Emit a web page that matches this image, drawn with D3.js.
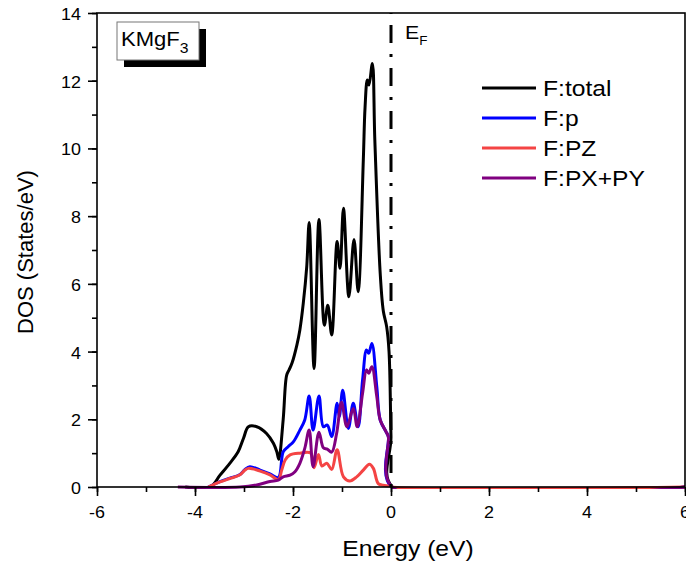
<!DOCTYPE html>
<html>
<head>
<meta charset="utf-8">
<script src="https://cdn.jsdelivr.net/npm/d3@7"></script>
<style>
  body { margin: 0; background: #fff; }
  svg { display: block; font-family: "Liberation Sans", Arial, sans-serif; }
</style>
</head>
<body>
<svg id="chart" width="686" height="567"></svg>
<script>
// F partial DOS of KMgF3 (energy in eV, DOS in States/eV)
const totalE = [-4.2, -3.69, -3.49, -3.29, -3.12, -3.01, -2.91, -2.74, -2.54, -2.40, -2.33, -2.29, -2.20, -2.13, -2.08, -2.02, -1.92, -1.86, -1.79, -1.72, -1.67, -1.57, -1.47, -1.36, -1.29, -1.21, -1.10, -1.04, -0.97, -0.86, -0.755, -0.67, -0.565, -0.53, -0.484, -0.45, -0.38, -0.33, -0.22, -0.157, -0.088, -0.04, 0.0, 0.03, 6];
const totalDOS = [0, 0, 0.35, 0.7, 1.04, 1.44, 1.78, 1.78, 1.58, 1.29, 1.04, 0.82, 2.0, 3.3, 3.46, 3.66, 4.2, 4.64, 5.43, 6.5, 7.81, 3.5, 7.9, 4.78, 5.37, 4.49, 7.25, 6.46, 8.23, 5.62, 7.31, 5.77, 9.66, 11.2, 12.02, 11.87, 12.51, 10.25, 6.3, 5.2, 4.73, 4.0, 1.5, 0, 0];

const pE = [-3.73, -3.49, -3.29, -3.08, -2.98, -2.88, -2.67, -2.47, -2.30, -2.20, -2.10, -1.99, -1.86, -1.76, -1.67, -1.59, -1.47, -1.38, -1.30, -1.21, -1.10, -1.055, -0.985, -0.87, -0.77, -0.67, -0.58, -0.50, -0.455, -0.39, -0.29, -0.22, -0.10, -0.055, 0.01, 6];
const pDOS = [0, 0.16, 0.26, 0.37, 0.52, 0.6, 0.5, 0.39, 0.28, 1.04, 1.19, 1.34, 1.68, 1.98, 2.69, 1.68, 2.69, 1.78, 1.83, 1.49, 2.47, 2.08, 2.86, 1.73, 2.47, 1.78, 3.16, 4.05, 3.95, 4.24, 2.96, 1.98, 1.63, 1.49, 0, 0];

const pzE = [-3.73, -3.49, -3.29, -3.08, -2.98, -2.91, -2.67, -2.47, -2.30, -2.23, -2.16, -2.06, -1.86, -1.64, -1.57, -1.48, -1.41, -1.31, -1.21, -1.10, -0.97, -0.84, -0.70, -0.565, -0.44, -0.36, -0.26, -0.16, -0.02, 0.02, 6];
const pzDOS = [0, 0.15, 0.25, 0.36, 0.5, 0.55, 0.47, 0.36, 0.22, 0.5, 0.8, 0.95, 1.0, 1.0, 0.57, 0.96, 0.62, 0.7, 0.52, 1.1, 0.3, 0.18, 0.3, 0.5, 0.67, 0.55, 0.1, 0.05, 0.03, 0, 0];

const pxpyE = [-4.35, -3.08, -2.74, -2.47, -2.30, -2.20, -2.06, -1.96, -1.86, -1.76, -1.67, -1.59, -1.47, -1.38, -1.30, -1.21, -1.11, -1.01, -0.90, -0.77, -0.69, -0.58, -0.50, -0.455, -0.39, -0.29, -0.22, -0.10, -0.055, 0.02, 6];
const pxpyDOS = [0, 0, 0.06, 0.16, 0.2, 0.3, 0.35, 0.45, 0.7, 1.14, 1.68, 0.6, 1.62, 1.16, 1.12, 1.03, 1.58, 2.5, 1.78, 2.32, 1.78, 2.77, 3.46, 3.36, 3.55, 2.67, 1.98, 1.63, 1.49, 0, 0];

const seriesNames = ["F:total", "F:p", "F:PZ", "F:PX+PY"];
const seriesColors = ["#000000", "#0000ff", "#f44444", "#800080"];
const xTicks = [-6, -4, -2, 0, 2, 4, 6];
const yTicks = [0, 2, 4, 6, 8, 10, 12, 14];

const series = [
  { name: seriesNames[0], color: seriesColors[0], e: totalE, v: totalDOS },
  { name: seriesNames[1], color: seriesColors[1], e: pE, v: pDOS },
  { name: seriesNames[2], color: seriesColors[2], e: pzE, v: pzDOS },
  { name: seriesNames[3], color: seriesColors[3], e: pxpyE, v: pxpyDOS }
];

const W = 686, H = 567;
const margin = { left: 97, top: 13, right: 1, bottom: 80 };
const stretch = 1.12; // the original text looks horizontally widened

const svg = d3.select("#chart");
const x = d3.scaleLinear().domain([-6, 6]).range([margin.left, W - margin.right]);
const y = d3.scaleLinear().domain([0, 14]).range([H - margin.bottom, margin.top]);

svg.append("defs").append("clipPath").attr("id", "plot")
  .append("rect")
  .attr("x", x(-6)).attr("y", y(14) - 2)
  .attr("width", x(6) - x(-6)).attr("height", y(0) - y(14) + 4);

// curves
const line = d3.line()
  .x(d => x(d[0]))
  .y(d => y(d[1]))
  .curve(d3.curveCatmullRom.alpha(0.5));

svg.append("g").attr("clip-path", "url(#plot)")
  .selectAll("path")
  .data(series)
  .join("path")
  .attr("fill", "none")
  .attr("stroke", d => d.color)
  .attr("stroke-width", 3)
  .attr("stroke-linejoin", "round")
  .attr("d", d => line(d.e.map((e, i) => [e, d.v[i]])));

// Fermi level
svg.append("line")
  .attr("x1", x(0)).attr("x2", x(0))
  .attr("y1", y(14)).attr("y2", y(0))
  .attr("stroke", "#000")
  .attr("stroke-width", 3)
  .attr("stroke-dasharray", "18,11,3,11")
  .attr("stroke-dashoffset", 31);

// frame
svg.append("rect")
  .attr("x", x(-6)).attr("y", y(14))
  .attr("width", x(6) - x(-6)).attr("height", y(0) - y(14))
  .attr("fill", "none").attr("stroke", "#000").attr("stroke-width", 1.6);

// axes
const xAxis = svg.append("g").attr("transform", `translate(0,${y(0)})`);
xAxis.call(d3.axisBottom(x).tickValues(d3.range(-6, 7, 1)).tickSize(5).tickSizeOuter(0).tickFormat(""));
xAxis.call(g => g.append("g").call(d3.axisBottom(x).tickValues(xTicks).tickSize(9).tickSizeOuter(0).tickFormat("")));

const yAxis = svg.append("g").attr("transform", `translate(${x(-6)},0)`);
yAxis.call(d3.axisLeft(y).tickValues(d3.range(0, 15, 1)).tickSize(5).tickSizeOuter(0).tickFormat(""));
yAxis.call(g => g.append("g").call(d3.axisLeft(y).tickValues(yTicks).tickSize(9).tickSizeOuter(0).tickFormat("")));

svg.selectAll(".domain").remove();
svg.selectAll(".tick line").attr("stroke", "#000").attr("stroke-width", 1.6);

function stretchedText(parent, px, py, str, size, anchor) {
  return parent.append("text")
    .attr("transform", `translate(${px},${py}) scale(${stretch},1)`)
    .attr("font-size", size)
    .attr("text-anchor", anchor || "start")
    .attr("fill", "#000")
    .text(str);
}

// plain hyphen for negatives, as in the original
xTicks.forEach(t => stretchedText(svg, x(t), y(0) + 31, String(t), 16, "middle"));
yTicks.forEach(t => stretchedText(svg, x(-6) - 16, y(t) + 7, String(t), 16, "end"));

stretchedText(svg, (x(-6) + x(6)) / 2 + 17, 556, "Energy (eV)", 22, "middle");

svg.append("text")
  .attr("transform", `translate(33,${(y(0) + y(14)) / 2 + 2}) rotate(-90)`)
  .attr("font-size", 22)
  .attr("text-anchor", "middle")
  .text("DOS (States/eV)");

// E_F label
const ef = svg.append("text")
  .attr("transform", `translate(405,39) scale(${stretch},1)`)
  .attr("font-size", 19);
ef.append("tspan").text("E");
ef.append("tspan").attr("font-size", 12).attr("dy", 6).text("F");

// KMgF3 tag with shadow
svg.append("rect").attr("x", 124).attr("y", 29).attr("width", 82).attr("height", 38).attr("fill", "#000");
svg.append("rect").attr("x", 117).attr("y", 22).attr("width", 82).attr("height", 38)
  .attr("fill", "#fff").attr("stroke", "#777").attr("stroke-width", 1);
const tag = svg.append("text")
  .attr("transform", `translate(121,46) scale(1.05,1)`)
  .attr("font-size", 21);
tag.append("tspan").text("KMgF");
tag.append("tspan").attr("font-size", 15).attr("dy", 7).text("3");

// legend
const legend = svg.append("g");
series.forEach((s, i) => {
  const ly = 88 + i * 30;
  legend.append("line")
    .attr("x1", 482).attr("x2", 536).attr("y1", ly).attr("y2", ly)
    .attr("stroke", s.color).attr("stroke-width", 3);
  stretchedText(legend, 543, ly + 8, s.name, 22, "start");
});
</script>
</body>
</html>
